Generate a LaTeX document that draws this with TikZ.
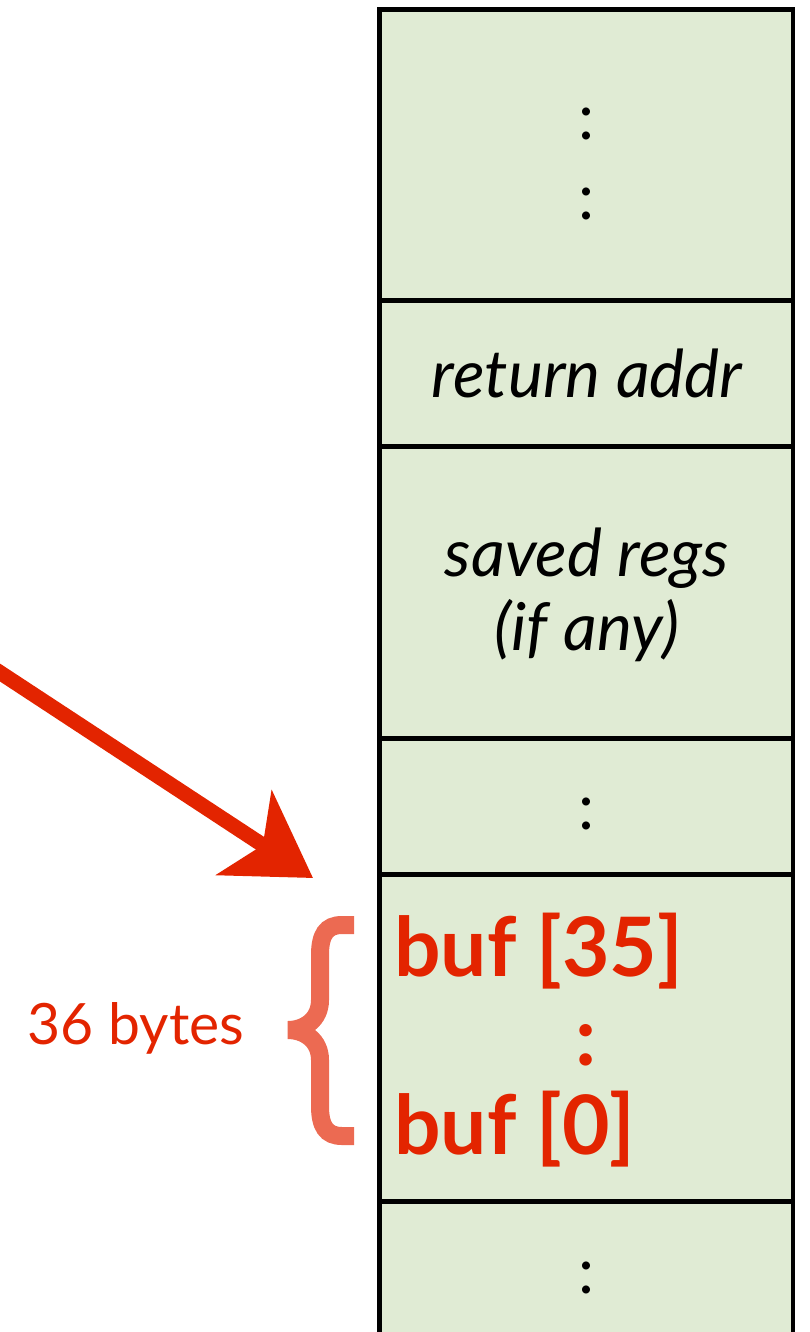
\documentclass[tikz,border=0pt]{standalone}
\usepackage{fontspec}
\setmainfont{Lato}
\usetikzlibrary{arrows.meta,positioning}
\definecolor{stackgreen}{RGB}{224,235,212}
\definecolor{bufred}{RGB}{227,36,0}
\definecolor{bracered}{RGB}{236,106,82}
\tikzset{
  cell/.style={draw=black, line width=4.6pt, fill=stackgreen, minimum width=413.5pt, inner sep=0pt, outer sep=0pt},
  celltext/.style={font=\fontsize{66}{74}\selectfont\itshape, align=center, inner sep=0pt},
  dotstext/.style={font=\fontsize{64}{64}\selectfont, inner sep=0pt},
  buftext/.style={font=\fontsize{82}{86}\selectfont\bfseries, text=bufred, inner sep=0pt, anchor=base west},
  sizelabel/.style={font=\fontsize{57}{60}\selectfont, text=bufred, inner sep=0pt},
  pointer/.style={-{Stealth[length=82pt,width=100pt,inset=22pt]}, draw=bufred, line width=15pt}
}
\begin{document}
\begin{tikzpicture}[x=1pt,y=-1pt]
  \useasboundingbox (0,0) rectangle (810,1332);
  % stack cells, top to bottom
  \node[cell, minimum height=291pt, anchor=north] (upper) at (586.25,9.5) {};
  \node[cell, minimum height=146pt, below=0pt of upper] (ret) {};
  \node[cell, minimum height=292pt, below=0pt of ret] (saved) {};
  \node[cell, minimum height=136pt, below=0pt of saved] (gap) {};
  \node[cell, minimum height=327pt, below=0pt of gap] (buf) {};
  \node[cell, minimum height=160pt, below=0pt of buf] (lower) {};
  % contents
  \node[dotstext] (updots1) at (586,124) {:};
  \node[dotstext] (updots2) at (586,204) {:};
  \node[celltext] (retlabel) at (587,373) {return addr};
  \node[celltext] (savedlabel) at (587,595) {saved regs\\(if any)};
  \node[dotstext] (gapdots) at (586,814) {:};
  \node[buftext] (bufhi) at (394,976) {buf [35]};
  \node[buftext, anchor=center] (bufdots) at (586,1045) {:};
  \node[buftext] (buflo) at (394,1154) {buf [0]};
  \node[dotstext] (lowdots) at (586,1278) {:};
  % size of the buffer
  \node[sizelabel] (bytes) at (136,1028) {36 bytes};
  \draw[bracered, line width=18pt, line join=miter]
    (354,925) -- (342,925) .. controls (326,925) and (320,935) .. (320,955)
    -- (320,1000) .. controls (320,1020) and (304,1030) .. (288,1030)
    .. controls (304,1030) and (320,1040) .. (320,1060)
    -- (320,1106) .. controls (320,1126) and (326,1136) .. (342,1136) -- (354,1136);
  % pointer into the buffer
  \coordinate (from) at (-10,666);
  \coordinate (target) at (313,878);
  \draw[pointer] (from) -- (target);
\end{tikzpicture}
\end{document}
